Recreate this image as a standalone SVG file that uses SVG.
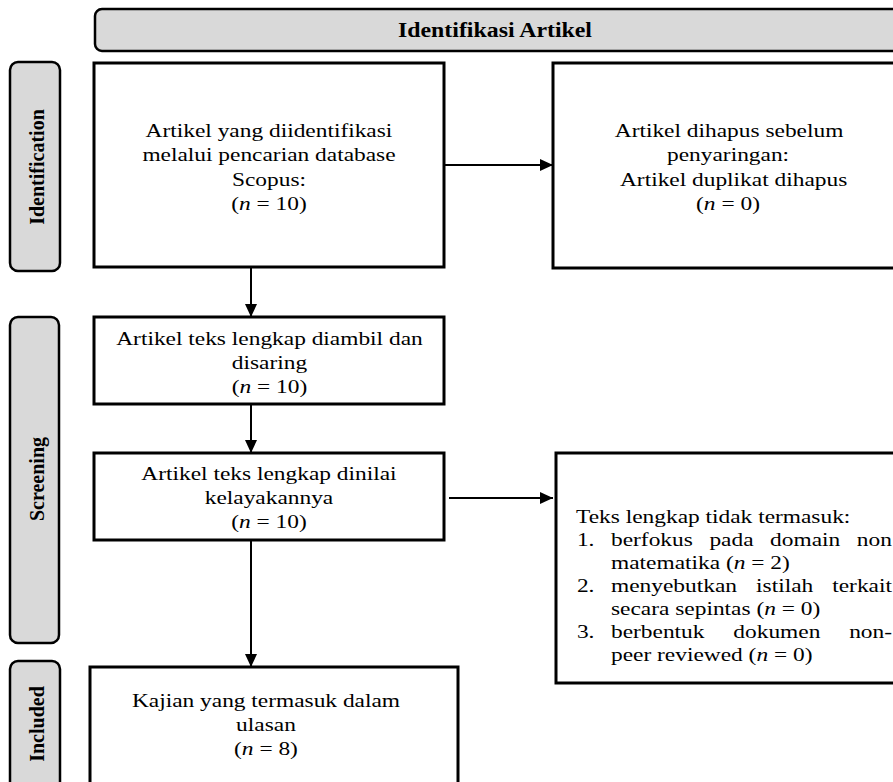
<svg xmlns="http://www.w3.org/2000/svg" width="893" height="782" viewBox="0 0 893 782">
<style>
.box{fill:#fff;stroke:#000;stroke-width:3}
.side{fill:#d9d9d9;stroke:#000;stroke-width:2.5}
.t{font-family:"Liberation Serif","Times New Roman",serif;font-size:18px;fill:#000}
.c{text-anchor:middle}
.i{font-style:italic}
.st{font-family:"Liberation Serif","Times New Roman",serif;font-size:20px;font-weight:bold;text-anchor:middle;fill:#000}
.conn{stroke:#000;stroke-width:2;fill:none;marker-end:url(#arr)}
</style>
<defs>
<marker id="arr" markerWidth="13" markerHeight="12" refX="13" refY="6" orient="auto" markerUnits="userSpaceOnUse"><path d="M0,0 L13,6 L0,12 z" fill="#000"/></marker>
</defs>
<rect width="893" height="782" fill="#fff"/>

<g id="header">
<rect class="side" x="95" y="9" width="820" height="42" rx="7"/>
<text class="st" x="495" y="37" font-size="19" textLength="194" lengthAdjust="spacingAndGlyphs">Identifikasi Artikel</text>
</g>

<g id="side-identification">
<rect class="side" x="10" y="62" width="50" height="209" rx="8"/>
<text class="st" transform="translate(44,167) rotate(-90)">Identification</text>
</g>
<g id="side-screening">
<rect class="side" x="10" y="317" width="49" height="326" rx="8"/>
<text class="st" transform="translate(44,479) rotate(-90)">Screening</text>
</g>
<g id="side-included">
<rect class="side" x="10" y="661" width="50" height="140" rx="8"/>
<text class="st" transform="translate(44,724) rotate(-90)">Included</text>
</g>

<g id="connectors">
<path class="conn" d="M444,165 H553"/>
<path class="conn" d="M251,267 V317"/>
<path class="conn" d="M251,404 V453"/>
<path class="conn" d="M449,498 H553"/>
<path class="conn" d="M251,540 V667"/>
</g>

<g id="box1">
<rect class="box" x="94" y="63" width="350" height="204"/>
<g transform="scale(1.3,1)" class="t c">
<text x="206.9" y="137">Artikel yang diidentifikasi</text>
<text x="206.9" y="161">melalui pencarian database</text>
<text x="206.9" y="186">Scopus:</text>
<text x="206.9" y="210">(<tspan class="i">n</tspan> = 10)</text>
</g>
</g>

<g id="box2">
<rect class="box" x="553" y="63" width="360" height="205"/>
<g transform="scale(1.3,1)" class="t">
<text x="560.8" y="137" text-anchor="middle">Artikel dihapus sebelum</text>
<text x="513.1" y="161">penyaringan:</text>
<text x="476.9" y="186">Artikel duplikat dihapus</text>
<text x="560" y="210" text-anchor="middle">(<tspan class="i">n</tspan> = 0)</text>
</g>
</g>

<g id="box3">
<rect class="box" x="94" y="317" width="350" height="87"/>
<g transform="scale(1.3,1)" class="t c">
<text x="207.3" y="345">Artikel teks lengkap diambil dan</text>
<text x="207.3" y="369">disaring</text>
<text x="207.3" y="393">(<tspan class="i">n</tspan> = 10)</text>
</g>
</g>

<g id="box4">
<rect class="box" x="94" y="453" width="350" height="87"/>
<g transform="scale(1.3,1)" class="t c">
<text x="206.9" y="480">Artikel teks lengkap dinilai</text>
<text x="206.9" y="504">kelayakannya</text>
<text x="206.9" y="528">(<tspan class="i">n</tspan> = 10)</text>
</g>
</g>

<g id="box5">
<rect class="box" x="556" y="453" width="360" height="230"/>
<g transform="scale(1.3,1)" class="t">
<text x="443.1" y="523">Teks lengkap tidak termasuk:</text>
<text y="546"><tspan x="443.8">1.</tspan><tspan x="470">berfokus</tspan><tspan x="545.7">pada</tspan><tspan x="592.4">domain</tspan><tspan x="659.1">non</tspan></text>
<text x="470" y="569">matematika (<tspan class="i">n</tspan> = 2)</text>
<text y="592"><tspan x="443.8">2.</tspan><tspan x="470">menyebutkan</tspan><tspan x="581.6">istilah</tspan><tspan x="640.2">terkait</tspan></text>
<text x="470" y="615">secara sepintas (<tspan class="i">n</tspan> = 0)</text>
<text y="638"><tspan x="443.8">3.</tspan><tspan x="470">berbentuk</tspan><tspan x="564.1">dokumen</tspan><tspan x="653.2">non-</tspan></text>
<text x="470" y="661">peer reviewed (<tspan class="i">n</tspan> = 0)</text>
</g>
</g>

<g id="box6">
<rect class="box" x="90" y="667" width="368" height="140"/>
<g transform="scale(1.3,1)" class="t c">
<text x="204.6" y="707">Kajian yang termasuk dalam</text>
<text x="204.6" y="731">ulasan</text>
<text x="204.6" y="755">(<tspan class="i">n</tspan> = 8)</text>
</g>
</g>
</svg>
